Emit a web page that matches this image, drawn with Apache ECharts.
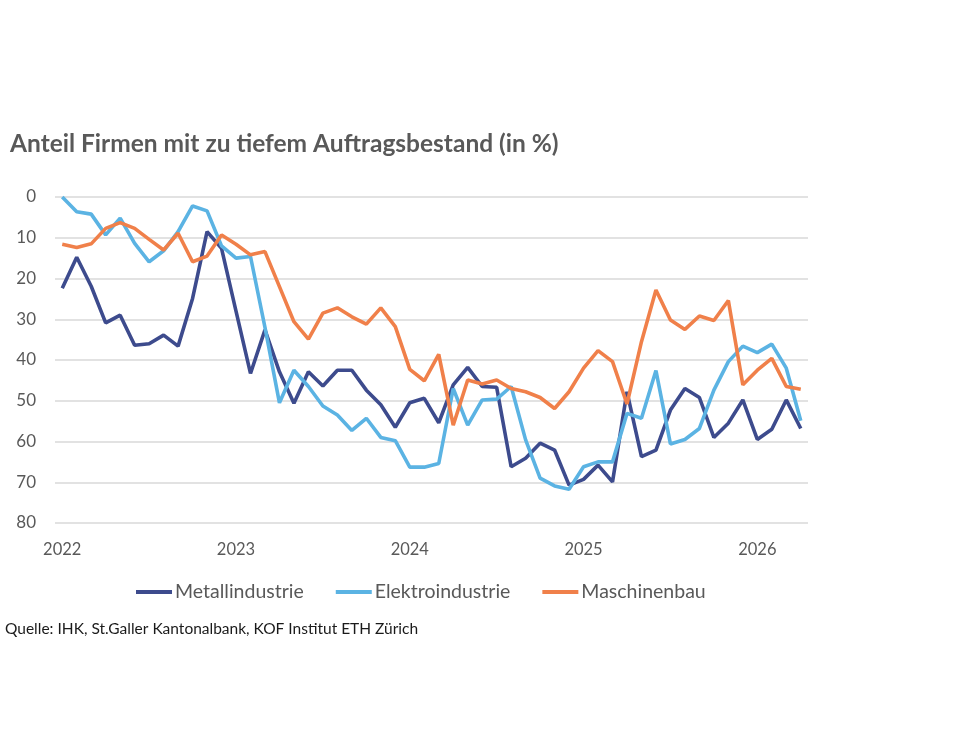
<!DOCTYPE html>
<html>
<head>
<meta charset="utf-8">
<script src="https://cdn.jsdelivr.net/npm/echarts@6/dist/echarts.min.js"></script>
<style>
  html, body { margin: 0; padding: 0; background: #fff; }
  #chart { width: 960px; height: 756px; }
</style>
</head>
<body>
<div id="chart"></div>
<script>
// Monate Jan 2022 bis Apr 2026
var months = [];
for (var y = 2022; y <= 2026; y++) {
    for (var m = 1; m <= 12; m++) {
        if (y === 2026 && m > 4) break;
        months.push(y + '-' + (m < 10 ? '0' + m : m));
    }
}

var metall = [
    22.4, 14.8, 21.9, 30.9, 29.0, 36.4, 36.0, 33.9, 36.6, 24.9, 8.5, 12.6,
    28.0, 43.3, 32.6, 42.9, 50.6, 42.9, 46.4, 42.5, 42.5, 47.4, 51.0, 56.5,
    50.5, 49.4, 55.4, 46.1, 41.8, 46.5, 46.7, 66.2, 64.1, 60.4, 62.1, 70.7,
    69.3, 65.8, 69.9, 47.8, 63.7, 62.1, 52.3, 47.0, 49.2, 59.0, 55.5, 49.8,
    59.5, 57.0, 49.8, 56.8
];
var elektro = [
    0.0, 3.6, 4.2, 9.3, 5.2, 11.4, 15.9, 13.2, 8.5, 2.2, 3.4, 12.0,
    15.0, 14.6, 32.0, 50.5, 42.5, 46.5, 51.3, 53.5, 57.3, 54.3, 59.0, 59.8,
    66.3, 66.3, 65.4, 47.0, 56.0, 49.8, 49.6, 46.5, 59.6, 69.0, 70.9, 71.7,
    66.2, 65.0, 65.0, 53.1, 54.3, 42.6, 60.6, 59.5, 56.8, 47.4, 40.4, 36.6,
    38.2, 36.1, 42.0, 54.9
];
var maschinen = [
    11.6, 12.4, 11.5, 7.7, 6.3, 7.7, 10.4, 13.0, 8.9, 15.9, 14.5, 9.3,
    11.6, 14.2, 13.4, 22.0, 30.6, 34.9, 28.5, 27.2, 29.4, 31.2, 27.2, 31.8,
    42.3, 45.1, 38.6, 56.0, 44.9, 45.9, 44.9, 47.0, 47.8, 49.2, 51.9, 47.8,
    42.0, 37.7, 40.4, 50.8, 35.5, 22.8, 30.2, 32.5, 29.2, 30.3, 25.4, 46.1,
    42.5, 39.6, 46.5, 47.2
];

var seriesNames = ['Metallindustrie', 'Elektroindustrie', 'Maschinenbau'];
var colors = ['#3D4B8D', '#5BB3E3', '#F0804A'];
var font = 'Lato, "Open Sans", sans-serif';

var chartDom = document.getElementById('chart');
var myChart = echarts.init(chartDom);

function lineSeries(name, data, color) {
    return {
        name: name,
        type: 'line',
        data: data,
        symbol: 'none',
        smooth: false,
        lineStyle: { color: color, width: 3.6 },
        itemStyle: { color: color },
        animation: false
    };
}

var option = {
    backgroundColor: '#fff',
    textStyle: { fontFamily: font },
    title: [{
        text: 'Anteil Firmen mit zu tiefem Auftragsbestand (in %)',
        left: 5,
        top: 127,
        textStyle: { fontFamily: font, fontSize: 24.5, fontWeight: 'bold', color: '#595959' }
    }, {
        text: 'Quelle: IHK, St.Galler Kantonalbank, KOF Institut ETH Zürich',
        left: 0,
        top: 616,
        textStyle: { fontFamily: font, fontSize: 15.5, fontWeight: 'normal', color: '#1a1a1a' }
    }],
    legend: {
        data: seriesNames,
        top: 577,
        left: 131,
        itemWidth: 36,
        itemHeight: 4,
        itemGap: 32,
        icon: 'rect',
        textStyle: { fontFamily: font, fontSize: 19.5, color: '#595959', padding: [0, 0, 0, -2] }
    },
    grid: { left: 55, right: 152, top: 197, bottom: 233, containLabel: false },
    xAxis: {
        type: 'category',
        data: months,
        boundaryGap: true,
        axisLine: { show: false },
        axisTick: { show: false },
        axisLabel: {
            interval: function (index) { return index % 12 === 0; },
            formatter: function (v) { return v.slice(0, 4); },
            fontFamily: font,
            fontSize: 16.5,
            color: '#595959',
            margin: 18
        },
        splitLine: { show: false }
    },
    yAxis: {
        type: 'value',
        inverse: true,
        min: 0,
        max: 80,
        interval: 10,
        axisLine: { show: false },
        axisTick: { show: false },
        axisLabel: { fontFamily: font, fontSize: 17, color: '#595959', margin: 19 },
        splitLine: { lineStyle: { color: '#d9d9d9', width: 1.5 } }
    },
    series: [
        lineSeries(seriesNames[0], metall, colors[0]),
        lineSeries(seriesNames[1], elektro, colors[1]),
        lineSeries(seriesNames[2], maschinen, colors[2])
    ]
};

myChart.setOption(option);

window.addEventListener('resize', function () {
    myChart.resize();
});
</script>
</body>
</html>
